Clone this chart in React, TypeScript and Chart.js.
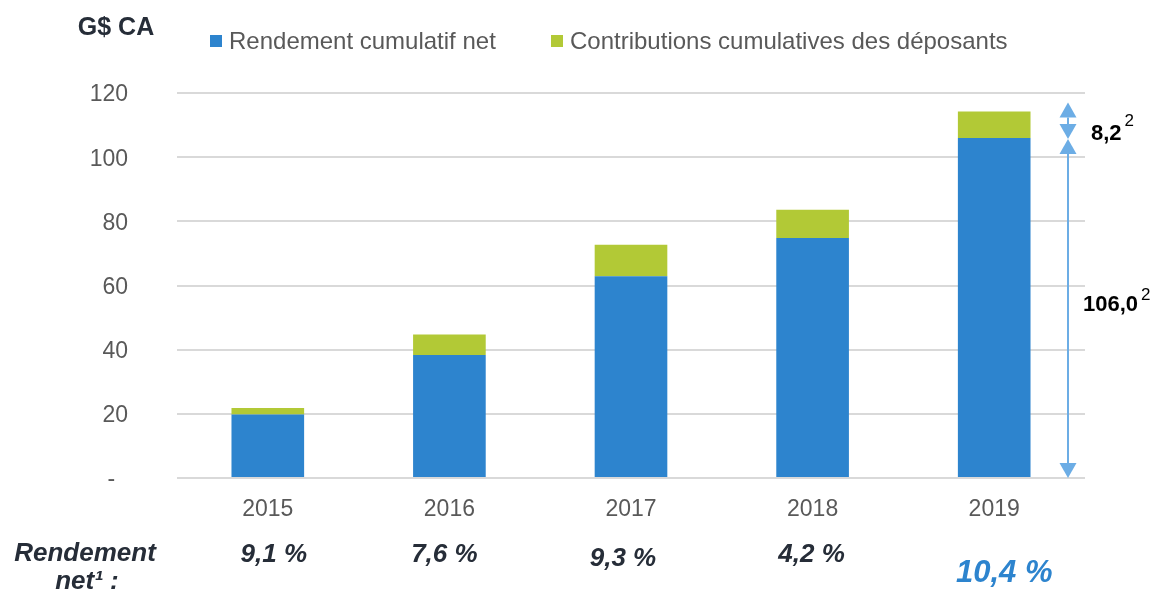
import { useEffect, useRef } from "react";
import { Chart, registerables } from "chart.js";

Chart.register(...registerables);

const years = ["2015", "2016", "2017", "2018", "2019"];
const netReturnCumulative = [19.8, 38.3, 62.9, 74.8, 106.0];
const depositorContributions = [2.0, 6.4, 9.8, 8.8, 8.2];
const netReturnRates = ["9,1 %", "7,6 %", "9,3 %", "4,2 %", "10,4 %"];
const legendLabels = ["Rendement cumulatif net", "Contributions cumulatives des déposants"];
const yMax = 120;
const yStep = 20;
const unitLabel = "G$ CA";
const rowLabel = ["Rendement", "net¹ :"];
const annotationLabels = ["8,2", "106,0"];
const annotationSup = "2";

const BLUE = "#2d84ce";
const GREEN = "#b2c936";
const DARK = "#262d38";
const GRAY = "#595959";
const ARROW = "#6cade5";
const FONT = "'Liberation Sans', Arial, sans-serif";

const overlayPlugin = {
  id: "overlay",
  afterDraw(chart: any) {
    const ctx = chart.ctx as CanvasRenderingContext2D;
    const x = chart.scales.x;
    const y = chart.scales.y;
    ctx.save();

    // unit label
    ctx.fillStyle = DARK;
    ctx.font = `bold 25px ${FONT}`;
    ctx.textAlign = "center";
    ctx.textBaseline = "middle";
    ctx.fillText(unitLabel, 116, 28);

    // legend
    const legendColors = [BLUE, GREEN];
    const legendX = [210, 551];
    ctx.font = `24px ${FONT}`;
    ctx.textAlign = "left";
    legendLabels.forEach((lab, i) => {
      ctx.fillStyle = legendColors[i];
      ctx.fillRect(legendX[i], 35, 12, 12);
      ctx.fillStyle = GRAY;
      ctx.fillText(lab, legendX[i] + 19, 42);
    });

    // arrows
    const last = years.length - 1;
    const ax = chart.chartArea.right - 17;
    const yTop = y.getPixelForValue(netReturnCumulative[last] + depositorContributions[last]) - 9;
    const yMid = y.getPixelForValue(netReturnCumulative[last]) + 1;
    const yBot = y.getPixelForValue(0);
    const head = 15;
    const hw = 8.5;
    ctx.strokeStyle = ARROW;
    ctx.fillStyle = ARROW;
    ctx.lineWidth = 2;
    const up = (tipY: number) => {
      ctx.beginPath();
      ctx.moveTo(ax, tipY);
      ctx.lineTo(ax - hw, tipY + head);
      ctx.lineTo(ax + hw, tipY + head);
      ctx.closePath();
      ctx.fill();
    };
    const down = (tipY: number) => {
      ctx.beginPath();
      ctx.moveTo(ax, tipY);
      ctx.lineTo(ax - hw, tipY - head);
      ctx.lineTo(ax + hw, tipY - head);
      ctx.closePath();
      ctx.fill();
    };
    ctx.beginPath();
    ctx.moveTo(ax, yTop + head);
    ctx.lineTo(ax, yMid - head);
    ctx.moveTo(ax, yMid + head);
    ctx.lineTo(ax, yBot - head);
    ctx.stroke();
    up(yTop);
    down(yMid);
    up(yMid);
    down(yBot);

    // annotation labels
    const drawSup = (txt: string, lx: number, ly: number, raise: number) => {
      ctx.fillStyle = "#000";
      ctx.font = `bold 22px ${FONT}`;
      ctx.textAlign = "left";
      ctx.textBaseline = "middle";
      ctx.fillText(txt, lx, ly);
      const w = ctx.measureText(txt).width;
      ctx.font = `17px ${FONT}`;
      ctx.fillText(annotationSup, lx + w + 3, ly - raise);
    };
    drawSup(annotationLabels[0], 1091, (yTop + yMid) / 2 + 13, 12);
    drawSup(annotationLabels[1], 1083, yMid + (yBot - yMid) * 0.49, 10);

    // bottom row
    ctx.fillStyle = DARK;
    ctx.font = `italic bold 26px ${FONT}`;
    ctx.textAlign = "center";
    ctx.textBaseline = "middle";
    ctx.fillText(rowLabel[0], 85, 554);
    ctx.fillText(rowLabel[1], 87, 582);
    netReturnRates.forEach((r, i) => {
      const px = x.getPixelForValue(i);
      if (i === last) {
        ctx.fillStyle = BLUE;
        ctx.font = `italic bold 31px ${FONT}`;
        ctx.fillText(r, px + 10, 573);
      } else {
        ctx.fillStyle = DARK;
        ctx.font = `italic bold 26px ${FONT}`;
        const dx = [6, -5, -8, -1][i];
        const yy = i === 2 ? 559 : 555;
        ctx.fillText(r, px + dx, yy);
      }
    });
    ctx.restore();
  },
};

export default function App() {
  const ref = useRef<HTMLCanvasElement>(null);
  useEffect(() => {
    if (!ref.current) return;
    const chart = new Chart(ref.current, {
      type: "bar",
      data: {
        labels: years,
        datasets: [
          {
            label: legendLabels[0],
            data: netReturnCumulative,
            backgroundColor: BLUE,
            barPercentage: 0.4,
            categoryPercentage: 1,
          },
          {
            label: legendLabels[1],
            data: depositorContributions,
            backgroundColor: GREEN,
            barPercentage: 0.4,
            categoryPercentage: 1,
          },
        ],
      },
      options: {
        animation: false,
        responsive: true,
        maintainAspectRatio: false,
        layout: { padding: { top: 93, right: 74, left: 0, bottom: 0 } },
        plugins: { legend: { display: false }, tooltip: { enabled: false } },
        scales: {
          x: {
            stacked: true,
            grid: { display: false, drawTicks: false },
            border: { display: false },
            ticks: { color: GRAY, font: { family: FONT, size: 23 }, padding: 18 },
            afterFit: (s: any) => {
              s.height = 114;
            },
          },
          y: {
            stacked: true,
            min: 0,
            max: yMax,
            grid: { color: "#d9d9d9", lineWidth: 2, drawTicks: false },
            border: { display: false },
            ticks: {
              stepSize: yStep,
              color: GRAY,
              font: { family: FONT, size: 23 },
              padding: 49,
              labelOffset: 2,
              callback: (v: any) => (v === 0 ? "-  " : String(v)),
            },
            afterFit: (s: any) => {
              s.width = 177;
            },
          },
        },
      },
      plugins: [overlayPlugin],
    });
    return () => chart.destroy();
  }, []);
  return (
    <div style={{ position: "fixed", left: 0, top: 0, width: 1159, height: 592, background: "#fff" }}>
      <canvas ref={ref} />
    </div>
  );
}
